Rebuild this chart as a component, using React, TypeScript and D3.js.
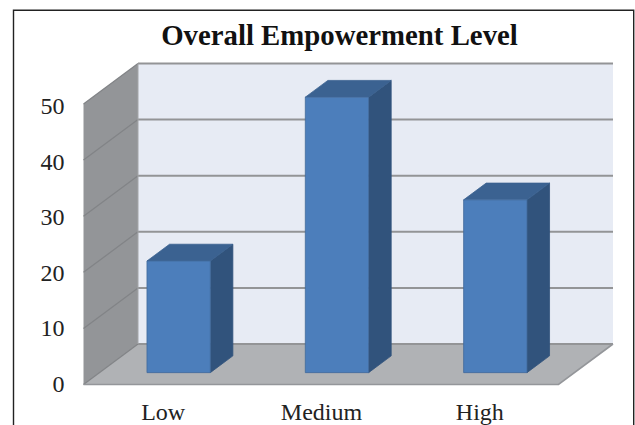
import React from "react";
import * as d3 from "d3";

const categories = ["Low", "Medium", "High"];
const values = [19.9, 49.1, 30.8];
const yTicks = [0, 10, 20, 30, 40, 50];
const chartTitle = "Overall Empowerment Level";

const WIDTH = 635;
const HEIGHT = 425;
const FONT = "'Liberation Serif', 'Times New Roman', serif";

// Front edge of the chart box; the depth vector leads to the back wall.
const FRONT_LEFT = 83.5;
const FRONT_RIGHT = 558.5;
const DEPTH_X = 54.5;
const DEPTH_Y = -40.5;

// Bars occupy the middle of the floor's depth.
const BAR_NEAR = 0.293;
const BAR_FAR = 0.707;

const x = d3
  .scaleBand<string>()
  .domain(categories)
  .range([FRONT_LEFT, FRONT_RIGHT])
  .paddingInner(0.6)
  .paddingOuter(0.3);

const y = d3.scaleLinear().domain([0, 50]).range([384.5, 104]);
const yLabel = d3.scaleLinear().domain([0, 50]).range([383.5, 106]);

// Oblique projection: depth 0 is the front plane, depth 1 the back wall.
const project = (px: number, value: number, depth: number): [number, number] => [
  px + depth * DEPTH_X,
  y(value) + depth * DEPTH_Y,
];

const poly = (pts: [number, number][]) => d3.line()(pts)! + "Z";

export default function App() {
  const bw = x.bandwidth();
  return (
    <svg
      width={WIDTH}
      height={HEIGHT}
      viewBox={`0 0 ${WIDTH} ${HEIGHT}`}
      style={{ position: "absolute", left: 0, top: 0, background: "#fff" }}
    >
      {/* outer frame, open at the bottom */}
      <path
        d={`M13.5,${HEIGHT}V10.3H633.7V${HEIGHT}`}
        fill="none"
        stroke="#222"
        strokeWidth={1.4}
      />

      <text
        x={339.5}
        y={44.5}
        textAnchor="middle"
        fontFamily={FONT}
        fontWeight="bold"
        fontSize={28.8}
        fill="#111"
      >
        {chartTitle}
      </text>

      {/* back wall */}
      <path
        d={poly([
          project(FRONT_LEFT, 50, 1),
          project(FRONT_RIGHT, 50, 1),
          project(FRONT_RIGHT, 0, 1),
          project(FRONT_LEFT, 0, 1),
        ])}
        fill="#e7ebf4"
      />
      {/* side wall */}
      <path
        d={poly([
          project(FRONT_LEFT, 50, 0),
          project(FRONT_LEFT, 50, 1),
          project(FRONT_LEFT, 0, 1),
          project(FRONT_LEFT, 0, 0),
        ])}
        fill="#939598"
      />
      {/* floor */}
      <path
        d={poly([
          project(FRONT_LEFT, 0, 0),
          project(FRONT_LEFT, 0, 1),
          project(FRONT_RIGHT, 0, 1),
          project(FRONT_RIGHT, 0, 0),
        ])}
        fill="#b0b2b5"
      />

      {/* gridlines across the back wall and down the side wall */}
      {yTicks.map((t) => (
        <g key={t} fill="none">
          <path
            d={d3.line()([project(FRONT_LEFT, t, 0), project(FRONT_LEFT, t, 1)])!}
            stroke="#828487"
            strokeWidth={1.3}
          />
          <path
            d={d3.line()([project(FRONT_LEFT, t, 1), project(FRONT_RIGHT, t, 1)])!}
            stroke="#939496"
            strokeWidth={2}
          />
        </g>
      ))}
      {/* floor's front and right edges, and the wall's inner corner */}
      <path
        d={d3.line()([
          project(FRONT_LEFT, 0, 0),
          project(FRONT_RIGHT, 0, 0),
          project(FRONT_RIGHT, 0, 1),
        ])!}
        fill="none"
        stroke="#94969a"
        strokeWidth={1.6}
      />
      <path
        d={d3.line()([project(FRONT_LEFT, 50, 1), project(FRONT_LEFT, 0, 1)])!}
        fill="none"
        stroke="#a4a6a9"
        strokeWidth={1}
      />

      {/* bars: right side, top, then front */}
      {categories.map((c, i) => {
        const x0 = x(c)!;
        const x1 = x0 + bw;
        const v = values[i];
        return (
          <g key={c} strokeLinejoin="round">
            <path
              d={poly([
                project(x1, v, BAR_NEAR),
                project(x1, v, BAR_FAR),
                project(x1, 0, BAR_FAR),
                project(x1, 0, BAR_NEAR),
              ])}
              fill="#31537c"
              stroke="#31537c"
              strokeWidth={0.8}
            />
            <path
              d={poly([
                project(x0, v, BAR_NEAR),
                project(x0, v, BAR_FAR),
                project(x1, v, BAR_FAR),
                project(x1, v, BAR_NEAR),
              ])}
              fill="#3b6291"
              stroke="#3b6291"
              strokeWidth={0.8}
            />
            <path
              d={poly([
                project(x0, v, BAR_NEAR),
                project(x1, v, BAR_NEAR),
                project(x1, 0, BAR_NEAR),
                project(x0, 0, BAR_NEAR),
              ])}
              fill="#4c7ebb"
              stroke="#41699b"
              strokeWidth={0.8}
            />
          </g>
        );
      })}

      {/* value axis labels */}
      {yTicks.map((t) => (
        <text
          key={t}
          x={64.5}
          y={yLabel(t)}
          dy="0.34em"
          textAnchor="end"
          fontFamily={FONT}
          fontSize={24}
          fill="#222"
        >
          {t}
        </text>
      ))}

      {/* category labels */}
      {categories.map((c) => (
        <text
          key={c}
          x={x(c)! + bw / 2 + 0.5}
          y={419.5}
          textAnchor="middle"
          fontFamily={FONT}
          fontSize={24}
          fill="#222"
        >
          {c}
        </text>
      ))}
    </svg>
  );
}
